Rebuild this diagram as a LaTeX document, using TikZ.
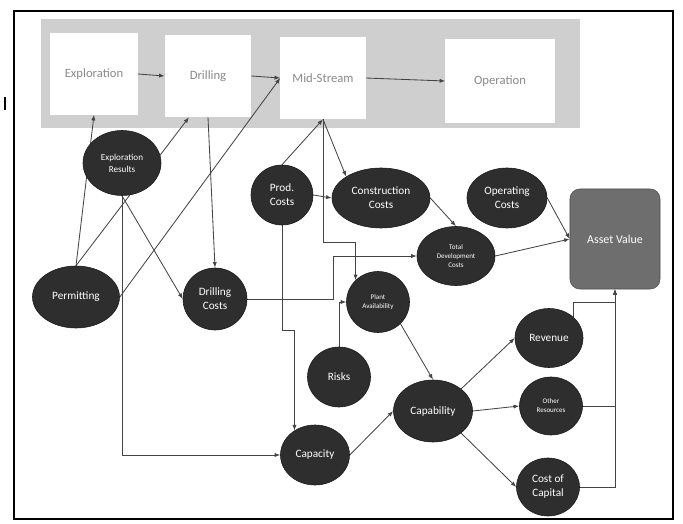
\documentclass[tikz,border=0pt]{standalone}
\usepackage{fontspec}
\setmainfont{Carlito}
\usetikzlibrary{shapes.geometric,arrows.meta,calc}
\pgfdeclarelayer{back}
\pgfdeclarelayer{lines}
\pgfsetlayers{back,lines,main}
\definecolor{blobfill}{HTML}{2E2E2E}
\definecolor{bandgray}{HTML}{CFCFCF}
\definecolor{boxtext}{HTML}{8A8A8A}
\definecolor{assetfill}{HTML}{6E6E6E}
\definecolor{linegray}{HTML}{444444}
\newcommand{\fs}[2]{\fontsize{#1}{#2}\selectfont}

\begin{document}
\begin{tikzpicture}[x=0.025cm,y=-0.025cm]
    \tikzstyle{stage}=[rectangle, fill=white, text=boxtext, font=\fs{9}{11}]
    \tikzstyle{blob}=[ellipse, fill=blobfill, draw=black!90, text=white, inner sep=0pt, align=center, font=\fs{8}{10}]
    \tikzstyle{link}=[draw=linegray, line width=0.6pt, -{Latex[length=4pt,width=3pt]}]
    \useasboundingbox (0,0) rectangle (683,524);
    \draw[line width=1pt] (14,11) rectangle (673,519);
    \draw[line width=1pt] (5,97) -- (5,110);
    \begin{pgfonlayer}{back}
        \fill[bandgray] (41,19) rectangle (580,128);
    \end{pgfonlayer}
    \node[stage, minimum width=21.75mm, minimum height=20.25mm] (expl) at (94,74) {Exploration};
    \node[stage, minimum width=21.5mm, minimum height=20.5mm] (drill) at (208,76) {Drilling};
    \node[stage, minimum width=21.25mm, minimum height=20.5mm] (mid) at (323,78) {Mid-Stream};
    \node[stage, minimum width=27.25mm, minimum height=20.75mm] (oper) at (500,81) {Operation};
    \node[blob, minimum width=19.5mm, minimum height=16.25mm, font=\fs{6.5}{8.5}] (expres) at (122,163) {Exploration\\Results};
    \node[blob, minimum width=21.75mm, minimum height=15.5mm] (permit) at (76,297) {Permitting};
    \node[blob, minimum width=16mm, minimum height=15.5mm] (drillc) at (215,299) {Drilling\\Costs};
    \node[blob, minimum width=15.5mm, minimum height=15mm] (prodc) at (282,195) {Prod.\\Costs};
    \node[blob, minimum width=24.5mm, minimum height=15mm] (constr) at (381,198) {Construction\\Costs};
    \node[blob, minimum width=20mm, minimum height=15mm] (operc) at (507,198) {Operating\\Costs};
    \node[blob, minimum width=19.5mm, minimum height=14.75mm, font=\fs{5}{6.5}] (tdc) at (456,256) {Total\\Development\\Costs};
    \node[blob, minimum width=15.75mm, minimum height=15.25mm, font=\fs{5}{6.5}] (plant) at (378,302) {Plant\\Availability};
    \node[blob, minimum width=15.75mm, minimum height=15mm] (risks) at (339,377) {Risks};
    \node[blob, minimum width=17.25mm, minimum height=15mm] (capac) at (315,455) {Capacity};
    \node[blob, minimum width=19.75mm, minimum height=15.5mm] (capab) at (433,411) {Capability};
    \node[blob, minimum width=17mm, minimum height=14.75mm] (revenue) at (549,338) {Revenue};
    \node[blob, minimum width=15.75mm, minimum height=14.5mm, font=\fs{5}{6.5}] (other) at (551,406) {Other\\Resources};
    \node[blob, minimum width=15.75mm, minimum height=14.5mm] (coc) at (548,487) {Cost of\\Capital};
    \node[rectangle, rounded corners=7pt, fill=assetfill, draw=black!70, text=white, minimum width=22.5mm, minimum height=25mm, font=\fs{8.5}{10}] (asset) at (615,239) {Asset Value};
    \begin{pgfonlayer}{lines}
        \draw[link] (expl.east) -- (drill.west);
        \draw[link] (drill.east) -- (mid.west);
        \draw[link] (mid.east) -- (oper.west);
        \draw[link] (permit.north) -- (expl.south);
        \draw[link] (permit.north) -- ($(drill.south west)!0.28!(drill.south east)$);
        \draw[link] (permit.east) -- (mid.west);
        \draw[link] (expres.south) -- (drillc.west);
        \draw[link] (expres.south) |- (capac.west);
        \draw[link] (drill.south) -- (drillc.north);
        \draw[link] (prodc.north) -- (mid.south);
        \draw[link] (mid.south) -- (constr.north west);
        \draw[link] (mid.south) -- ++(0,123) -| (plant.north west);
        \draw[link] (prodc.east) -- (constr.west);
        \draw[link] (prodc.south) -- ++(0,105) -| (capac.130);
        \draw[link] (drillc.east) -- ++(86,0) |- (tdc.west);
        \draw[link] (risks.north) |- (plant.west);
        \draw[link] (constr.east) -- (tdc.north);
        \draw[link] (operc.east) -- (asset.west);
        \draw[link] (tdc.east) -- (asset.west);
        \draw[link] (plant.south east) -- (capab.north);
        \draw[link] (capac.east) -- (capab.west);
        \draw[link] (capab.north east) -- (revenue.west);
        \draw[link] (capab.east) -- (other.west);
        \draw[link] (capab.south east) -- (coc.west);
        \draw[link] (revenue.north east) -- ++(0,-15) -| (asset.south);
        \draw[link] (other.east) -| (asset.south);
        \draw[link] (coc.east) -| (asset.south);
    \end{pgfonlayer}
\end{tikzpicture}
\end{document}
